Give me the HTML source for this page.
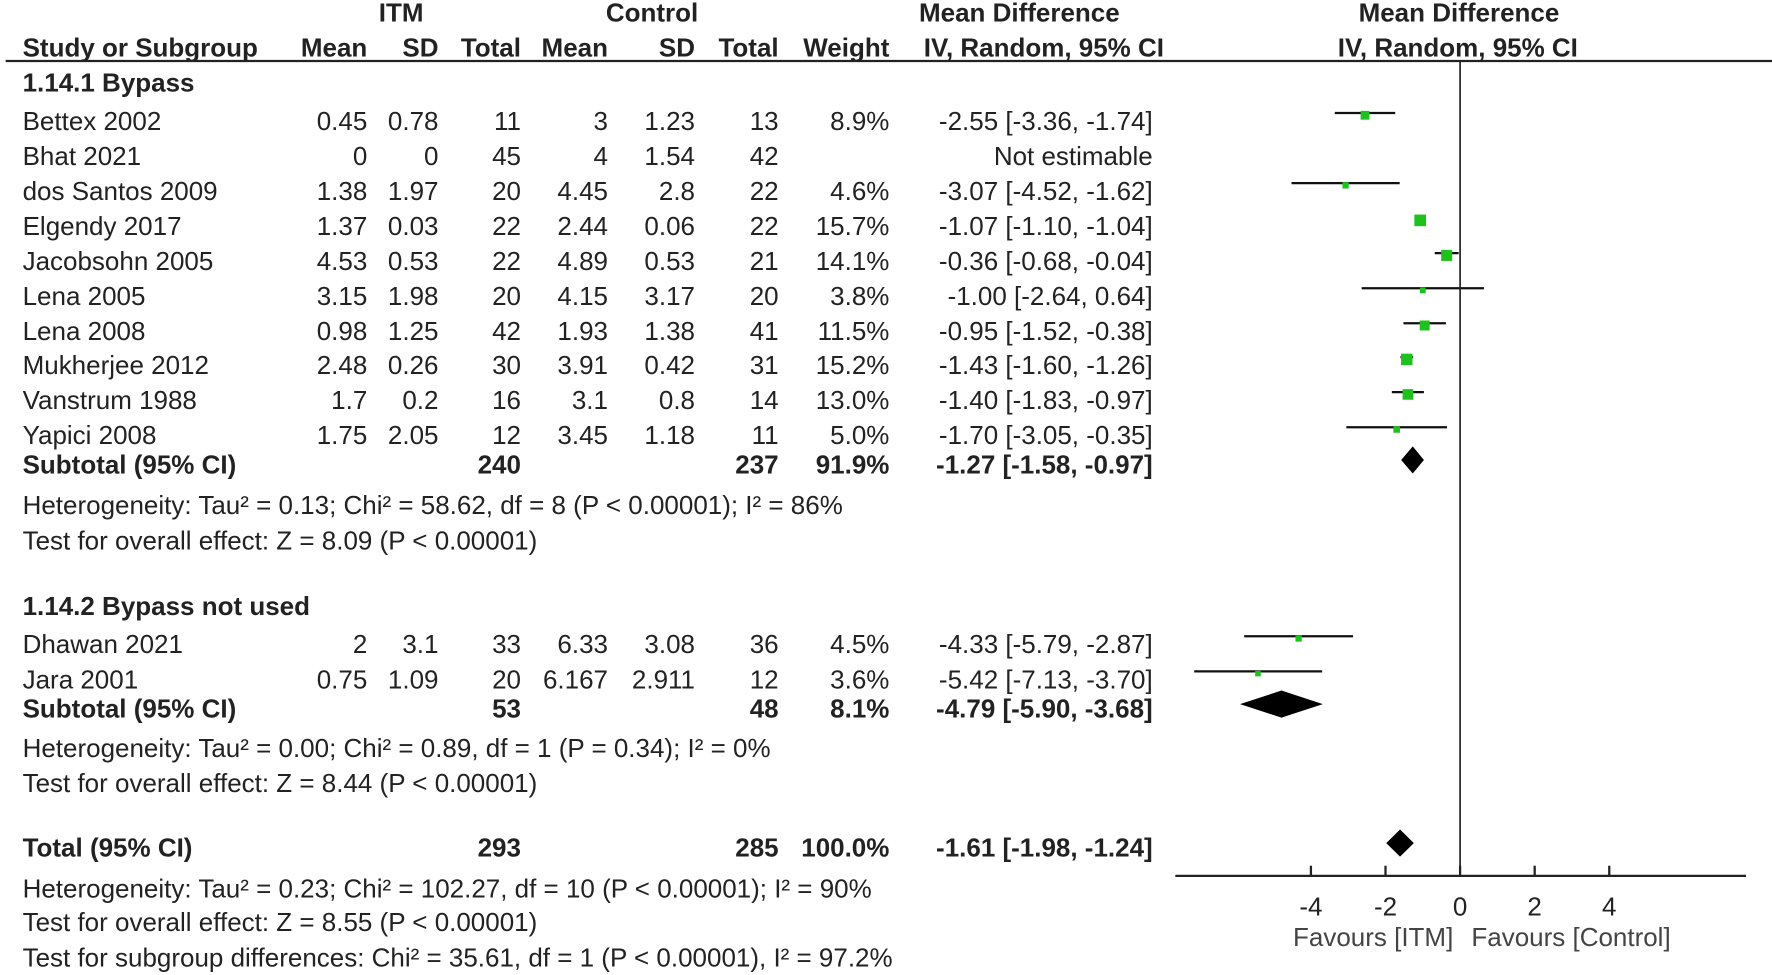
<!DOCTYPE html>
<html><head><meta charset="utf-8"><style>
html,body{margin:0;padding:0;background:#fff}
svg{display:block}
text{font-family:"Liberation Sans",Arial,sans-serif;fill:#222;font-size:23px}
.b{font-weight:bold}
</style></head><body>
<svg width="1772" height="975" viewBox="0 0 1568 862.7" preserveAspectRatio="none" xmlns="http://www.w3.org/2000/svg">
<g id="hdr">
<text class="b" x="355" y="19" text-anchor="middle">ITM</text>
<text class="b" x="577" y="19" text-anchor="middle">Control</text>
<text class="b" x="902" y="19" text-anchor="middle">Mean Difference</text>
<text class="b" x="1291" y="19" text-anchor="middle">Mean Difference</text>
<text class="b" x="20" y="50">Study or Subgroup</text>
<text class="b" x="325" y="50" text-anchor="end">Mean</text>
<text class="b" x="388" y="50" text-anchor="end">SD</text>
<text class="b" x="461" y="50" text-anchor="end">Total</text>
<text class="b" x="538" y="50" text-anchor="end">Mean</text>
<text class="b" x="615" y="50" text-anchor="end">SD</text>
<text class="b" x="689" y="50" text-anchor="end">Total</text>
<text class="b" x="787" y="50" text-anchor="end">Weight</text>
<text class="b" x="1030" y="50" text-anchor="end">IV, Random, 95% CI</text>
<text class="b" x="1290" y="50" text-anchor="middle">IV, Random, 95% CI</text>
<line x1="5" y1="54" x2="1568" y2="54" stroke="#222" stroke-width="2"/>
</g>
<g id="tbl"></g>
<g id="plot"></g>
</svg>
<script>
const names=["Bettex 2002","Bhat 2021","dos Santos 2009","Elgendy 2017","Jacobsohn 2005","Lena 2005","Lena 2008","Mukherjee 2012","Vanstrum 1988","Yapici 2008","Dhawan 2021","Jara 2001"];
const rowY=[107,138,169,200,231,262,293,323,354,385,570,601];
const itmMean=["0.45","0","1.38","1.37","4.53","3.15","0.98","2.48","1.7","1.75","2","0.75"];
const itmSD=["0.78","0","1.97","0.03","0.53","1.98","1.25","0.26","0.2","2.05","3.1","1.09"];
const itmN=["11","45","20","22","22","20","42","30","16","12","33","20"];
const ctlMean=["3","4","4.45","2.44","4.89","4.15","1.93","3.91","3.1","3.45","6.33","6.167"];
const ctlSD=["1.23","1.54","2.8","0.06","0.53","3.17","1.38","0.42","0.8","1.18","3.08","2.911"];
const ctlN=["13","42","22","22","21","20","41","31","14","11","36","12"];
const weights=[8.9,null,4.6,15.7,14.1,3.8,11.5,15.2,13.0,5.0,4.5,3.6];
const md=[-2.55,null,-3.07,-1.07,-0.36,-1.00,-0.95,-1.43,-1.40,-1.70,-4.33,-5.42];
const lo=[-3.36,null,-4.52,-1.10,-0.68,-2.64,-1.52,-1.60,-1.83,-3.05,-5.79,-7.13];
const hi=[-1.74,null,-1.62,-1.04,-0.04,0.64,-0.38,-1.26,-0.97,-0.35,-2.87,-3.70];
const pooledLabels=["Subtotal (95% CI)","Subtotal (95% CI)","Total (95% CI)"];
const pooledY=[411,627,750];
const pooledMd=[-1.27,-4.79,-1.61];
const pooledLo=[-1.58,-5.90,-1.98];
const pooledHi=[-0.97,-3.68,-1.24];
const pooledItmN=["240","53","293"];
const pooledCtlN=["237","48","285"];
const pooledW=["91.9%","8.1%","100.0%"];
const ticks=[-4,-2,0,2,4];
const notes=[["1.14.1 Bypass",73,true],["Heterogeneity: Tau² = 0.13; Chi² = 58.62, df = 8 (P < 0.00001); I² = 86%",447,false],["Test for overall effect: Z = 8.09 (P < 0.00001)",478,false],["1.14.2 Bypass not used",536,true],["Heterogeneity: Tau² = 0.00; Chi² = 0.89, df = 1 (P = 0.34); I² = 0%",662,false],["Test for overall effect: Z = 8.44 (P < 0.00001)",693,false],["Heterogeneity: Tau² = 0.23; Chi² = 102.27, df = 10 (P < 0.00001); I² = 90%",786,false],["Test for overall effect: Z = 8.55 (P < 0.00001)",816,false],["Test for subgroup differences: Chi² = 35.61, df = 1 (P < 0.00001), I² = 97.2%",847,false]];
const NS="http://www.w3.org/2000/svg";
const X0=1292,SC=33;
function x(v){return X0+SC*v;}
function el(t,a,p,txt){const e=document.createElementNS(NS,t);for(const k in a)e.setAttribute(k,a[k]);if(txt!=null)e.textContent=txt;p.appendChild(e);return e;}
const tbl=document.getElementById('tbl'),plot=document.getElementById('plot');
const f=v=>v.toFixed(2);
function txt(s,xx,y,anchor,bold,name){const e=el('text',{x:xx,y:y+8,'text-anchor':anchor||'start'},tbl,s);if(bold)e.setAttribute('class','b');

return e;}
notes.forEach(n=>txt(n[0],20,n[1],'start',n[2],n[2]?'subgroup-title':'stat-note'));
names.forEach((n,i)=>{const y=rowY[i];
txt(n,20,y,'start',false,'study-name');
txt(itmMean[i],325,y,'end');txt(itmSD[i],388,y,'end');txt(itmN[i],461,y,'end');
txt(ctlMean[i],538,y,'end');txt(ctlSD[i],615,y,'end');txt(ctlN[i],689,y,'end');
if(weights[i]!=null){txt(weights[i].toFixed(1)+'%',787,y,'end');
txt(f(md[i])+' ['+f(lo[i])+', '+f(hi[i])+']',1020,y,'end');
const py=y-7;
const ln=el('line',{x1:x(lo[i]),x2:x(hi[i]),y1:py,y2:py,stroke:'#111','stroke-width':2},plot);


const s=2.6*Math.sqrt(weights[i]);
const r=el('rect',{x:x(md[i])-s/2,y:py-s/2+2,width:s,height:s,fill:'#1ec21e'},plot);


}else{txt('Not estimable',1020,y,'end');}
});
pooledLabels.forEach((l,i)=>{const y=pooledY[i];
txt(l,20,y,'start',true,'pooled-label');txt(pooledItmN[i],461,y,'end',true);txt(pooledCtlN[i],689,y,'end',true);
txt(pooledW[i],787,y,'end',true);txt(f(pooledMd[i])+' ['+f(pooledLo[i])+', '+f(pooledHi[i])+']',1020,y,'end',true);
const py=y-4,h=12;
const d=el('polygon',{points:`${x(pooledLo[i])},${py} ${x(pooledMd[i])},${py-h} ${x(pooledHi[i])},${py} ${x(pooledMd[i])},${py+h}`,fill:'#000'},plot);


});
const zl=el('line',{x1:X0,x2:X0,y1:54,y2:775,stroke:'#222','stroke-width':1.5},plot);


const ax=el('line',{x1:1040,x2:1545,y1:775,y2:775,stroke:'#222','stroke-width':2},plot);


ticks.forEach(t=>{const tk=el('line',{x1:x(t),x2:x(t),y1:766,y2:775,stroke:'#222','stroke-width':2},plot);


const tl=el('text',{x:x(t),y:810,'text-anchor':'middle'},plot,String(t));

});
const fa=el('text',{x:1286,y:837,'text-anchor':'end',style:'fill:#444'},plot,'Favours [ITM]');


const fb=el('text',{x:1302,y:837,style:'fill:#444'},plot,'Favours [Control]');


</script>
</body></html>
